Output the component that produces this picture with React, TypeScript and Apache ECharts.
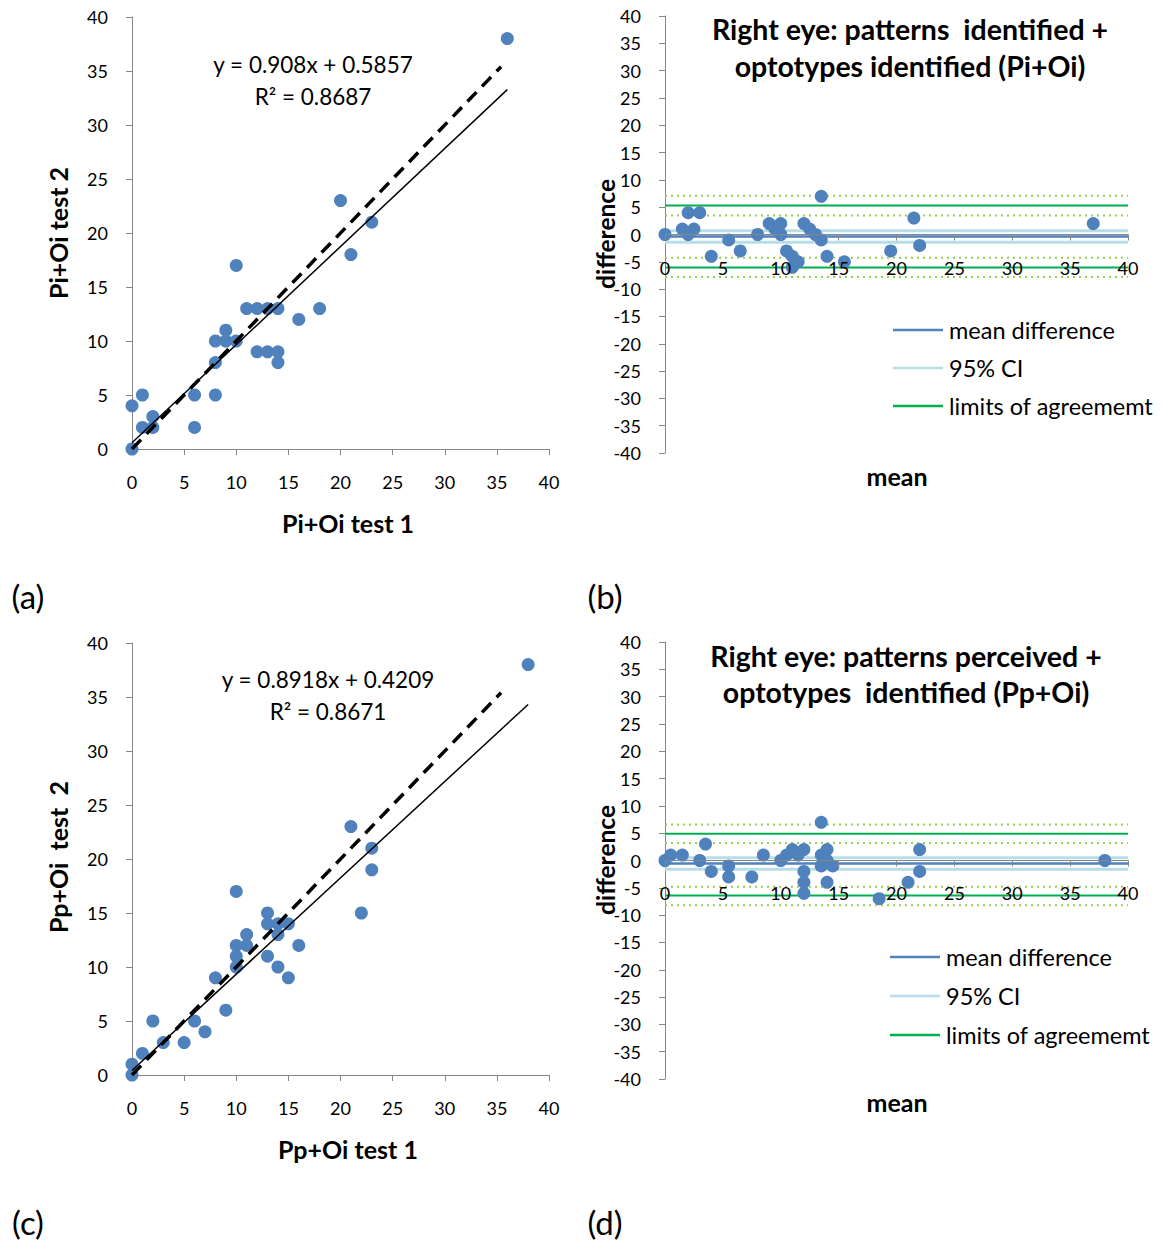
import React, { useEffect, useRef } from "react";
import * as echarts from "echarts";

const FONT = "Lato, 'Noto Sans', sans-serif";
const BLUE = "#4f81bd";
const AXIS = "#868686";
const CI_BLUE = "#b7dde8";
const GREEN = "#00b050";
const LIGHT_GREEN = "#92d050";

// (a) Pi+Oi test 1 vs test 2
const piOiTest1 = [0, 0, 1, 1, 2, 2, 6, 6, 8, 8, 8, 9, 9, 10, 10, 11, 12, 13, 14, 12, 13, 14, 14, 16, 18, 20, 21, 23, 36];
const piOiTest2 = [0, 4, 5, 2, 2, 3, 5, 2, 5, 8, 10, 11, 10, 10, 17, 13, 13, 13, 13, 9, 9, 9, 8, 12, 13, 23, 18, 21, 38];
const piOiTrend = { slope: 0.908, intercept: 0.5857, xEnd: 36 };
const piOiIdentityEnd = 35.4;

// (b) Pi+Oi Bland-Altman
const piOiMean = [0, 2, 3, 1.5, 2, 2.5, 5.5, 4, 6.5, 8, 9, 10, 9.5, 10, 13.5, 12, 12.5, 13, 13.5, 10.5, 11, 11.5, 11, 14, 15.5, 21.5, 19.5, 22, 37];
const piOiDiff = [0, 4, 4, 1, 0, 1, -1, -4, -3, 0, 2, 2, 1, 0, 7, 2, 1, 0, -1, -3, -4, -5, -6, -4, -5, 3, -3, -2, 2];
const piOiMeanDiff = -0.38;
const piOiCI = [0.68, -1.44];
const piOiLoA = [5.3, -6.06];
const piOiLoACI = [7.1, 3.5, -4.25, -7.8];

// (c) Pp+Oi test 1 vs test 2
const ppOiTest1 = [0, 0, 1, 2, 3, 5, 6, 7, 8, 9, 10, 10, 10, 10, 11, 11, 13, 13, 13, 14, 14, 14, 15, 15, 16, 21, 22, 23, 23, 38];
const ppOiTest2 = [0, 1, 2, 5, 3, 3, 5, 4, 9, 6, 17, 12, 11, 10, 13, 12, 15, 14, 11, 14, 13, 10, 14, 9, 12, 23, 15, 21, 19, 38];
const ppOiTrend = { slope: 0.8918, intercept: 0.4209, xEnd: 38 };
const ppOiIdentityEnd = 35.4;

// (d) Pp+Oi Bland-Altman
const ppOiMean = [0, 0.5, 1.5, 3.5, 3, 4, 5.5, 5.5, 8.5, 7.5, 13.5, 11, 10.5, 10, 12, 11.5, 14, 13.5, 12, 14, 13.5, 12, 14.5, 12, 14, 22, 18.5, 22, 21, 38];
const ppOiDiff = [0, 1, 1, 3, 0, -2, -1, -3, 1, -3, 7, 2, 1, 0, 2, 1, 2, 1, -2, 0, -1, -4, -1, -6, -4, 2, -7, -2, -4, 0];
const ppOiMeanDiff = -0.55;
const ppOiCI = [0.5, -1.58];
const ppOiLoA = [4.9, -6.4];
const ppOiLoACI = [6.6, 3.2, -4.8, -8.2];

const legendNames = ["mean difference", "95% CI", "limits of agreememt"];

const BA_PLOT_HEIGHT = 437;

function zip(a: number[], b: number[]) {
  return a.map((v, i) => [v, b[i]]);
}

function axisCommon(extra: any) {
  return {
    type: "value",
    interval: 5,
    axisLine: { show: true, onZero: false, lineStyle: { color: AXIS, width: 1 } },
    axisTick: { show: true, length: 6, lineStyle: { color: AXIS } },
    splitLine: { show: false },
    axisLabel: { fontSize: 18, color: "#000", fontFamily: FONT, margin: 24 },
    ...extra,
  };
}

function hline(idx: number, v: number, color: string, width: number, type: any) {
  return {
    type: "line",
    xAxisIndex: idx,
    yAxisIndex: idx,
    data: [[0, v], [40, v]],
    symbol: "none",
    silent: true,
    z: 1,
    lineStyle: { color, width, type },
  };
}

function baSeries(idx: number, mean: number, ci: number[], loa: number[], loaCi: number[]) {
  return [
    ...loaCi.map((v) => hline(idx, v, LIGHT_GREEN, 2, [2, 4])),
    ...loa.map((v) => hline(idx, v, GREEN, 2, "solid")),
    ...ci.map((v) => hline(idx, v, CI_BLUE, 3, "solid")),
    hline(idx, mean, BLUE, 2.5, "solid"),
  ];
}

function scatter(idx: number, data: number[][], z = 3) {
  return {
    type: "scatter",
    xAxisIndex: idx,
    yAxisIndex: idx,
    data,
    symbol: "circle",
    symbolSize: 13,
    itemStyle: { color: BLUE, opacity: 1 },
    z,
  };
}

function trendSeries(idx: number, trend: { slope: number; intercept: number; xEnd: number }, identityEnd: number) {
  return [
    {
      type: "line",
      xAxisIndex: idx,
      yAxisIndex: idx,
      data: [[0, trend.intercept], [trend.xEnd, trend.slope * trend.xEnd + trend.intercept]],
      symbol: "none",
      z: 4,
      lineStyle: { color: "#000", width: 1.5 },
    },
    {
      type: "line",
      xAxisIndex: idx,
      yAxisIndex: idx,
      data: [[0, 0], [identityEnd, identityEnd]],
      symbol: "none",
      z: 4,
      lineStyle: { color: "#000", width: 3.5, type: [13, 8] },
    },
  ];
}

function txt(x: number, y: number, text: string, size: number, opts: any = {}) {
  return {
    type: "text",
    x,
    y,
    rotation: opts.rotation || 0,
    z: 10,
    style: {
      text,
      fontSize: size,
      fontFamily: FONT,
      fontWeight: opts.bold ? "bold" : "normal",
      fill: "#000",
      textAlign: opts.align || "center",
      textVerticalAlign: "middle",
    },
  };
}

function legend(x: number, ys: number[]) {
  const colors = [BLUE, CI_BLUE, GREEN];
  const out: any[] = [];
  ys.forEach((y, i) => {
    out.push({
      type: "line",
      shape: { x1: x, y1: y, x2: x + 50, y2: y },
      style: { stroke: colors[i], lineWidth: 2.5 },
      z: 10,
    });
    out.push(txt(x + 56, y, legendNames[i], 23.5, { align: "left" }));
  });
  return out;
}

function buildOption() {
  // Bland-Altman x axes cross the difference axis at 0 (middle of the -40..40 range)
  const baX = (grid: number, margin: number) =>
    axisCommon({
      gridIndex: grid,
      min: 0,
      max: 40,
      z: 5,
      offset: -BA_PLOT_HEIGHT / 2,
      axisLabel: { fontSize: 18, color: "#000", fontFamily: FONT, margin },
    });
  return {
    animation: false,
    backgroundColor: "#fff",
    grid: [
      { left: 132, top: 17, width: 417, height: 432 },
      { left: 665, top: 16, width: 463, height: BA_PLOT_HEIGHT },
      { left: 132, top: 643, width: 417, height: 432 },
      { left: 665, top: 642, width: 463, height: BA_PLOT_HEIGHT },
    ],
    xAxis: [
      axisCommon({ gridIndex: 0, min: 0, max: 40 }),
      baX(1, 24),
      axisCommon({ gridIndex: 2, min: 0, max: 40 }),
      baX(3, 23),
    ],
    yAxis: [
      axisCommon({ gridIndex: 0, min: 0, max: 40 }),
      axisCommon({ gridIndex: 1, min: -40, max: 40 }),
      axisCommon({ gridIndex: 2, min: 0, max: 40 }),
      axisCommon({ gridIndex: 3, min: -40, max: 40 }),
    ],
    series: [
      scatter(0, zip(piOiTest1, piOiTest2), 2),
      ...trendSeries(0, piOiTrend, piOiIdentityEnd),
      ...baSeries(1, piOiMeanDiff, piOiCI, piOiLoA, piOiLoACI),
      scatter(1, zip(piOiMean, piOiDiff)),
      scatter(2, zip(ppOiTest1, ppOiTest2), 2),
      ...trendSeries(2, ppOiTrend, ppOiIdentityEnd),
      ...baSeries(3, ppOiMeanDiff, ppOiCI, ppOiLoA, ppOiLoACI),
      scatter(3, zip(ppOiMean, ppOiDiff)),
    ],
    graphic: [
      // panel (a)
      txt(313, 64, "y = 0.908x + 0.5857", 22.5),
      txt(313, 96, "R² = 0.8687", 22.5),
      txt(348, 523, "Pi+Oi test 1", 25, { bold: true }),
      txt(58, 233, "Pi+Oi test 2", 25, { bold: true, rotation: Math.PI / 2 }),
      txt(28, 596, "(a)", 33),
      // panel (b)
      txt(910, 29, "Right eye: patterns  identified +", 28.5, { bold: true }),
      txt(910, 66, "optotypes identified (Pi+Oi)", 28.5, { bold: true }),
      txt(605, 234, "difference", 24.5, { bold: true, rotation: Math.PI / 2 }),
      txt(897, 476, "mean", 25, { bold: true }),
      txt(605, 596, "(b)", 33),
      ...legend(893, [330, 368, 406]),
      // panel (c)
      txt(328, 679, "y = 0.8918x + 0.4209", 22.5),
      txt(328, 711, "R² = 0.8671", 22.5),
      txt(348, 1149, "Pp+Oi test 1", 25, { bold: true }),
      txt(58, 857, "Pp+Oi  test  2", 25, { bold: true, rotation: Math.PI / 2 }),
      txt(28, 1222, "(c)", 33),
      // panel (d)
      txt(906, 656, "Right eye: patterns perceived +", 28.5, { bold: true }),
      txt(906, 692, "optotypes  identified (Pp+Oi)", 28.5, { bold: true }),
      txt(605, 860, "difference", 24.5, { bold: true, rotation: Math.PI / 2 }),
      txt(897, 1102, "mean", 25, { bold: true }),
      txt(605, 1222, "(d)", 33),
      ...legend(890, [957, 996, 1035]),
    ],
  };
}

export default function App() {
  const ref = useRef<HTMLDivElement>(null);
  useEffect(() => {
    const chart = echarts.init(ref.current!, null, { renderer: "svg" });
    chart.setOption(buildOption() as any);
    return () => chart.dispose();
  }, []);
  return (
    <div
      ref={ref}
      style={{ position: "fixed", left: 0, top: 0, width: 1163, height: 1243, background: "#fff" }}
    />
  );
}
